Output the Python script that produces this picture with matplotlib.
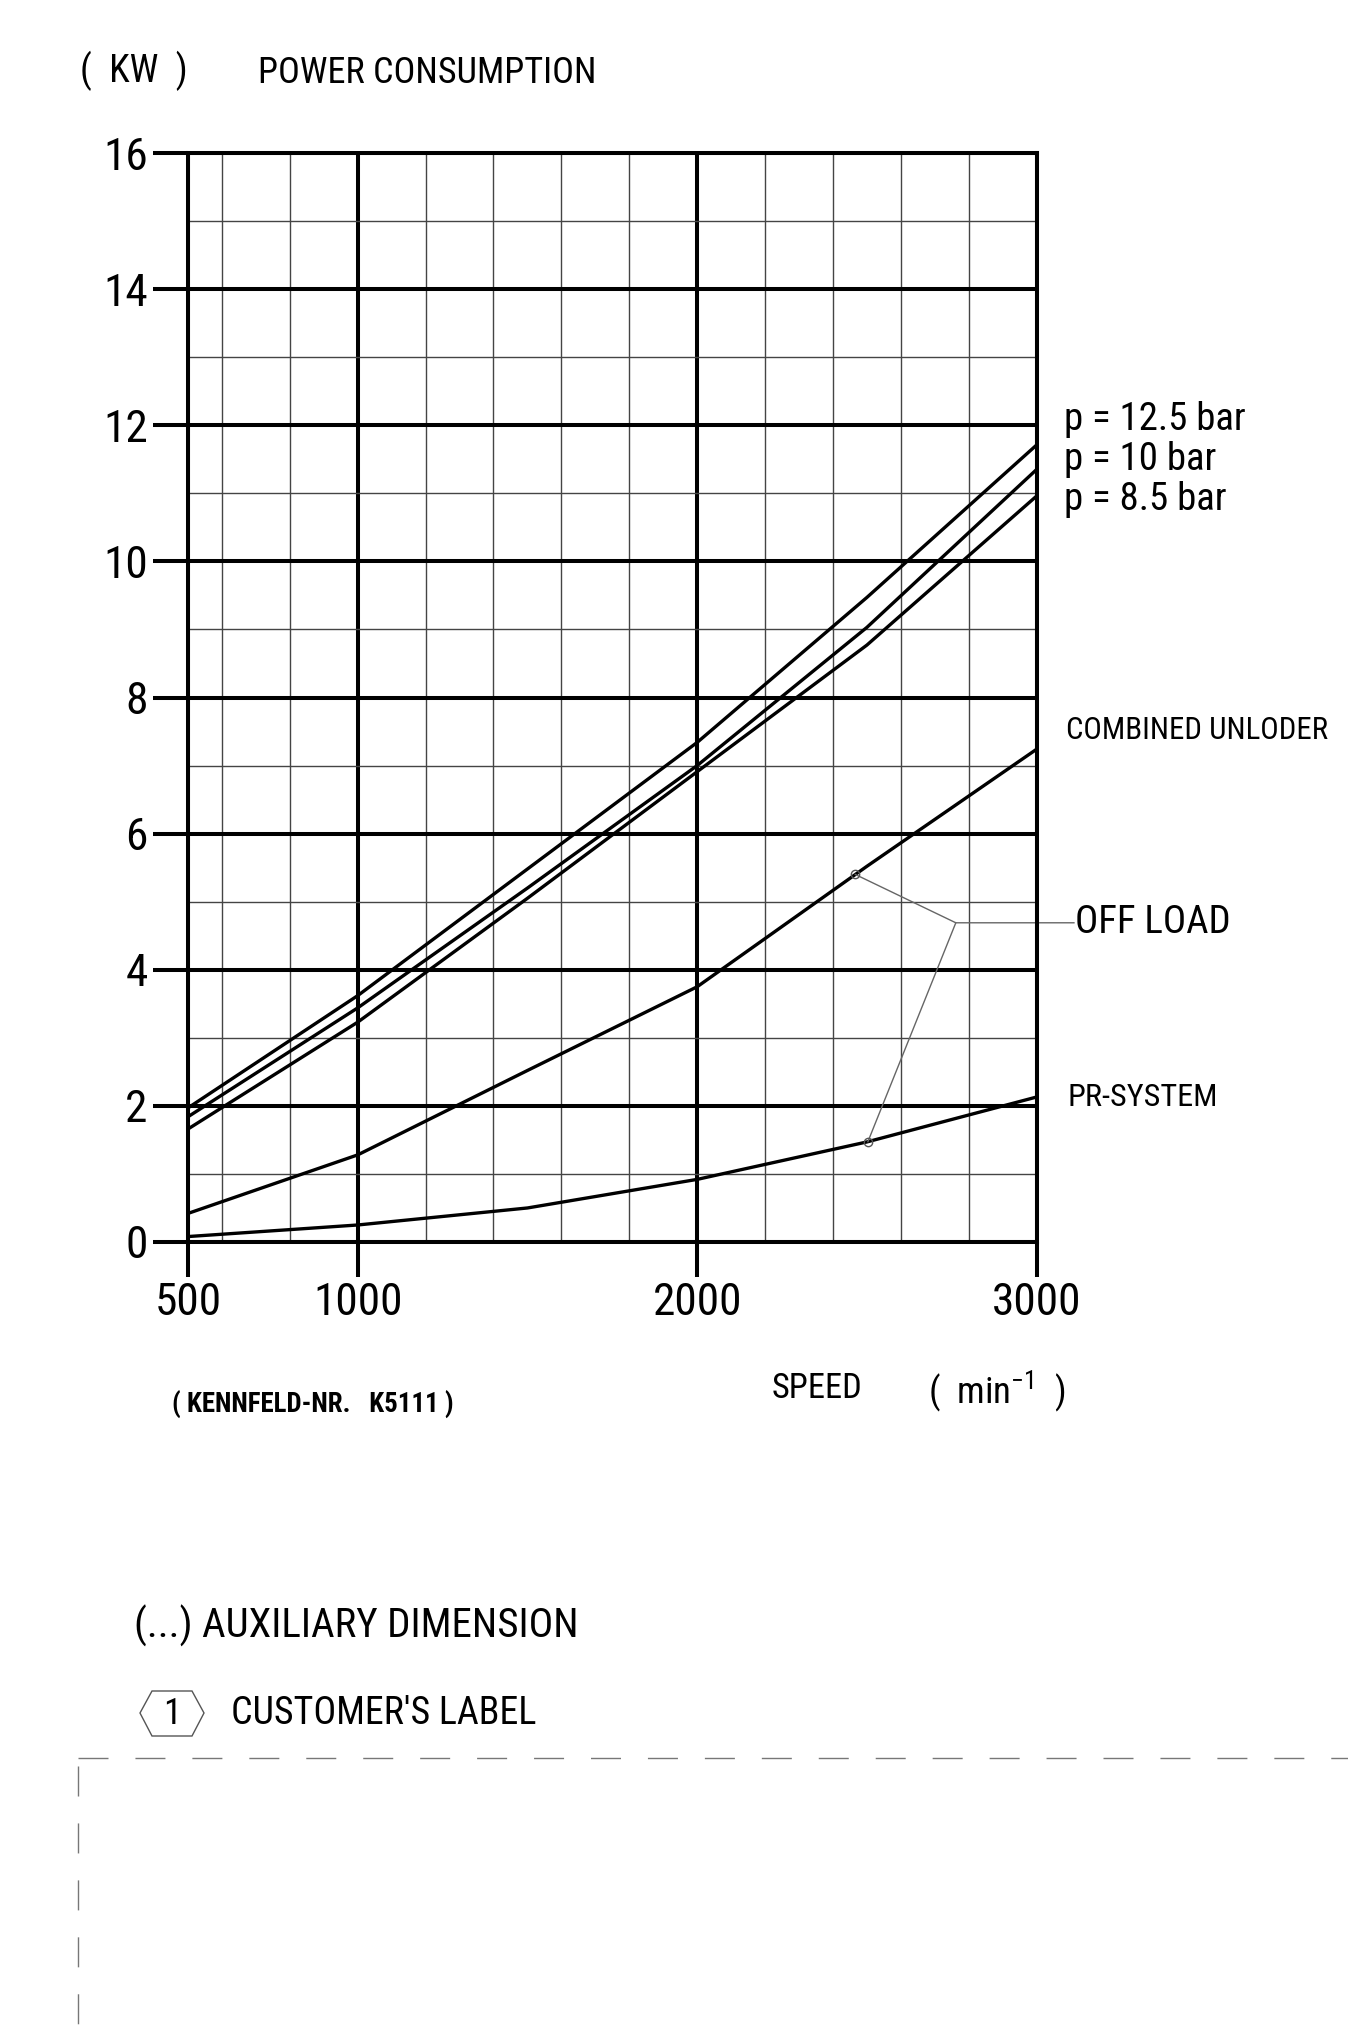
import numpy as np
import matplotlib
matplotlib.use('Agg')
import matplotlib.pyplot as plt
from matplotlib.patches import Polygon
from matplotlib.lines import Line2D

plt.rcParams['font.family'] = ['Roboto Condensed', 'Liberation Sans Narrow', 'Roboto', 'DejaVu Sans']
plt.rcParams['mathtext.fontset'] = 'custom'
plt.rcParams['mathtext.rm'] = 'Roboto Condensed'

# Kennlinien
speed = [500, 1000, 1500, 2000, 2500, 3000]
p_125 = [1.97, 3.62, 5.48, 7.34, 9.47, 11.71]
p_10 = [1.84, 3.44, 5.20, 7.00, 9.03, 11.35]
p_85 = [1.66, 3.23, 5.05, 6.91, 8.77, 10.96]
combined = [0.42, 1.28, 2.52, 3.75, 5.52, 7.24]
pr_system = [0.08, 0.25, 0.50, 0.92, 1.47, 2.13]

x_major = [500, 1000, 2000, 3000]
x_minor = [600, 800, 1200, 1400, 1600, 1800, 2200, 2400, 2600, 2800]
y_major = list(range(0, 17, 2))
y_minor = list(range(1, 16, 2))
pressure_labels = ['p = 12.5 bar', 'p = 10 bar', 'p = 8.5 bar']
offload_speed = [2466, 2503]

W, H = 1348, 2035


def fx(x):
    return x / W


def fy(y):
    return 1 - y / H


fig = plt.figure(figsize=(W / 100, H / 100), dpi=100)
renderer = fig.canvas.get_renderer()


def fit(t, width_px, max_size):
    # Schriftgroesse so waehlen, dass die Breite wie im Original ist
    w = t.get_window_extent(renderer).width
    size = min(t.get_fontsize() * width_px / w, max_size)
    t.set_fontsize(size)
    return size


ax = fig.add_axes([fx(188), fy(1242), 848.6 / W, 1089 / H])

ax.set_xlim(500, 3000)
ax.set_ylim(0, 16)
ax.set_xticks(x_major)
ax.set_xticks(x_minor, minor=True)
ax.set_yticks(y_major)
ax.set_yticks(y_minor, minor=True)
ax.set_axisbelow(True)
ax.grid(which='major', color='black', lw=2.9)
ax.grid(which='minor', color='#444444', lw=1.0)

probe = fig.text(0, 0, '1000', fontsize=20)
lab_size = fit(probe, 80, 30) * 1.12
probe.remove()
ax.tick_params(which='major', direction='out', length=25, width=2.9,
               labelsize=lab_size, pad=4, top=False, right=False)
ax.tick_params(which='minor', length=0)
for s in ax.spines.values():
    s.set_linewidth(2.9)

# Kurven
for vals in [p_125, p_10, p_85, combined, pr_system]:
    ax.plot(speed, vals, color='black', lw=2.4)

# Beschriftung der Druckkurven
pt = ax.text(3081, 12.09, pressure_labels[0], fontsize=20, va='center', ha='left', clip_on=False)
p_size = fit(pt, 190, 28)
for i, lab in enumerate(pressure_labels[1:], start=1):
    ax.text(3081, 12.09 - i * 0.59, lab, fontsize=p_size, va='center', ha='left', clip_on=False)
t = ax.text(3087, 7.52, 'COMBINED UNLODER', fontsize=20, va='center', ha='left', clip_on=False)
fit(t, 262, 26)
t = ax.text(3092, 2.12, 'PR-SYSTEM', fontsize=20, va='center', ha='left', clip_on=False)
fit(t, 150, 26)

# OFF LOAD Hinweislinien
y_off1 = np.interp(offload_speed[0], speed, combined)
y_off2 = np.interp(offload_speed[1], speed, pr_system)
jx, jy = 2762, 4.69
ax.plot([offload_speed[0], jx, 3110], [y_off1, jy, jy], color='#666666', lw=1.0, clip_on=False)
ax.plot([jx, offload_speed[1]], [jy, y_off2], color='#666666', lw=1.0, clip_on=False)
ax.plot(offload_speed, [y_off1, y_off2], 'o', mfc='none', mec='#555555', ms=6, mew=1.0)
t = ax.text(3112, jy, 'OFF LOAD', fontsize=20, va='center', ha='left', clip_on=False)
fit(t, 156, 30)

# Texte oben und unten
t = fig.text(fx(80), fy(71), '(  KW  )', fontsize=20, va='center')
fit(t, 108, 30)
t = fig.text(fx(258), fy(73), 'POWER CONSUMPTION', fontsize=20, va='center')
fit(t, 339, 30)
t = fig.text(fx(772), fy(1389), 'SPEED', fontsize=20, va='center')
fit(t, 91, 30)
t = fig.text(fx(928), fy(1392), r'(  min$^{\mathregular{-1}}$  )', fontsize=20, va='center')
fit(t, 138, 30)
t = fig.text(fx(172), fy(1405), '( KENNFELD-NR.   K5111 )', fontsize=18, va='center', weight='bold')
fit(t, 282, 22)
t = fig.text(fx(134), fy(1626), '(...) AUXILIARY DIMENSION', fontsize=20, va='center')
fit(t, 446, 30)
t = fig.text(fx(231), fy(1713), "CUSTOMER'S LABEL", fontsize=20, va='center')
fit(t, 305, 30)

hexa = [(140, 1713), (152, 1691), (192, 1691), (204, 1713), (192, 1736), (152, 1736)]
fig.patches.append(Polygon([(fx(a), fy(b)) for a, b in hexa], closed=True, fill=False,
                           edgecolor='#555555', lw=1.0, transform=fig.transFigure))
fig.text(fx(172), fy(1714), '1', fontsize=26, va='center', ha='center')

# gestrichelter Rahmen
fig.add_artist(Line2D([fx(78), fx(1348)], [fy(1758), fy(1758)], color='#777777', lw=1.0,
                      dashes=(21.6, 19.4), transform=fig.transFigure))
fig.add_artist(Line2D([fx(78), fx(78)], [fy(1766), fy(2035)], color='#777777', lw=1.0,
                      dashes=(21.6, 19.4), transform=fig.transFigure))

fig.savefig('out.png', dpi=100, facecolor='white')
